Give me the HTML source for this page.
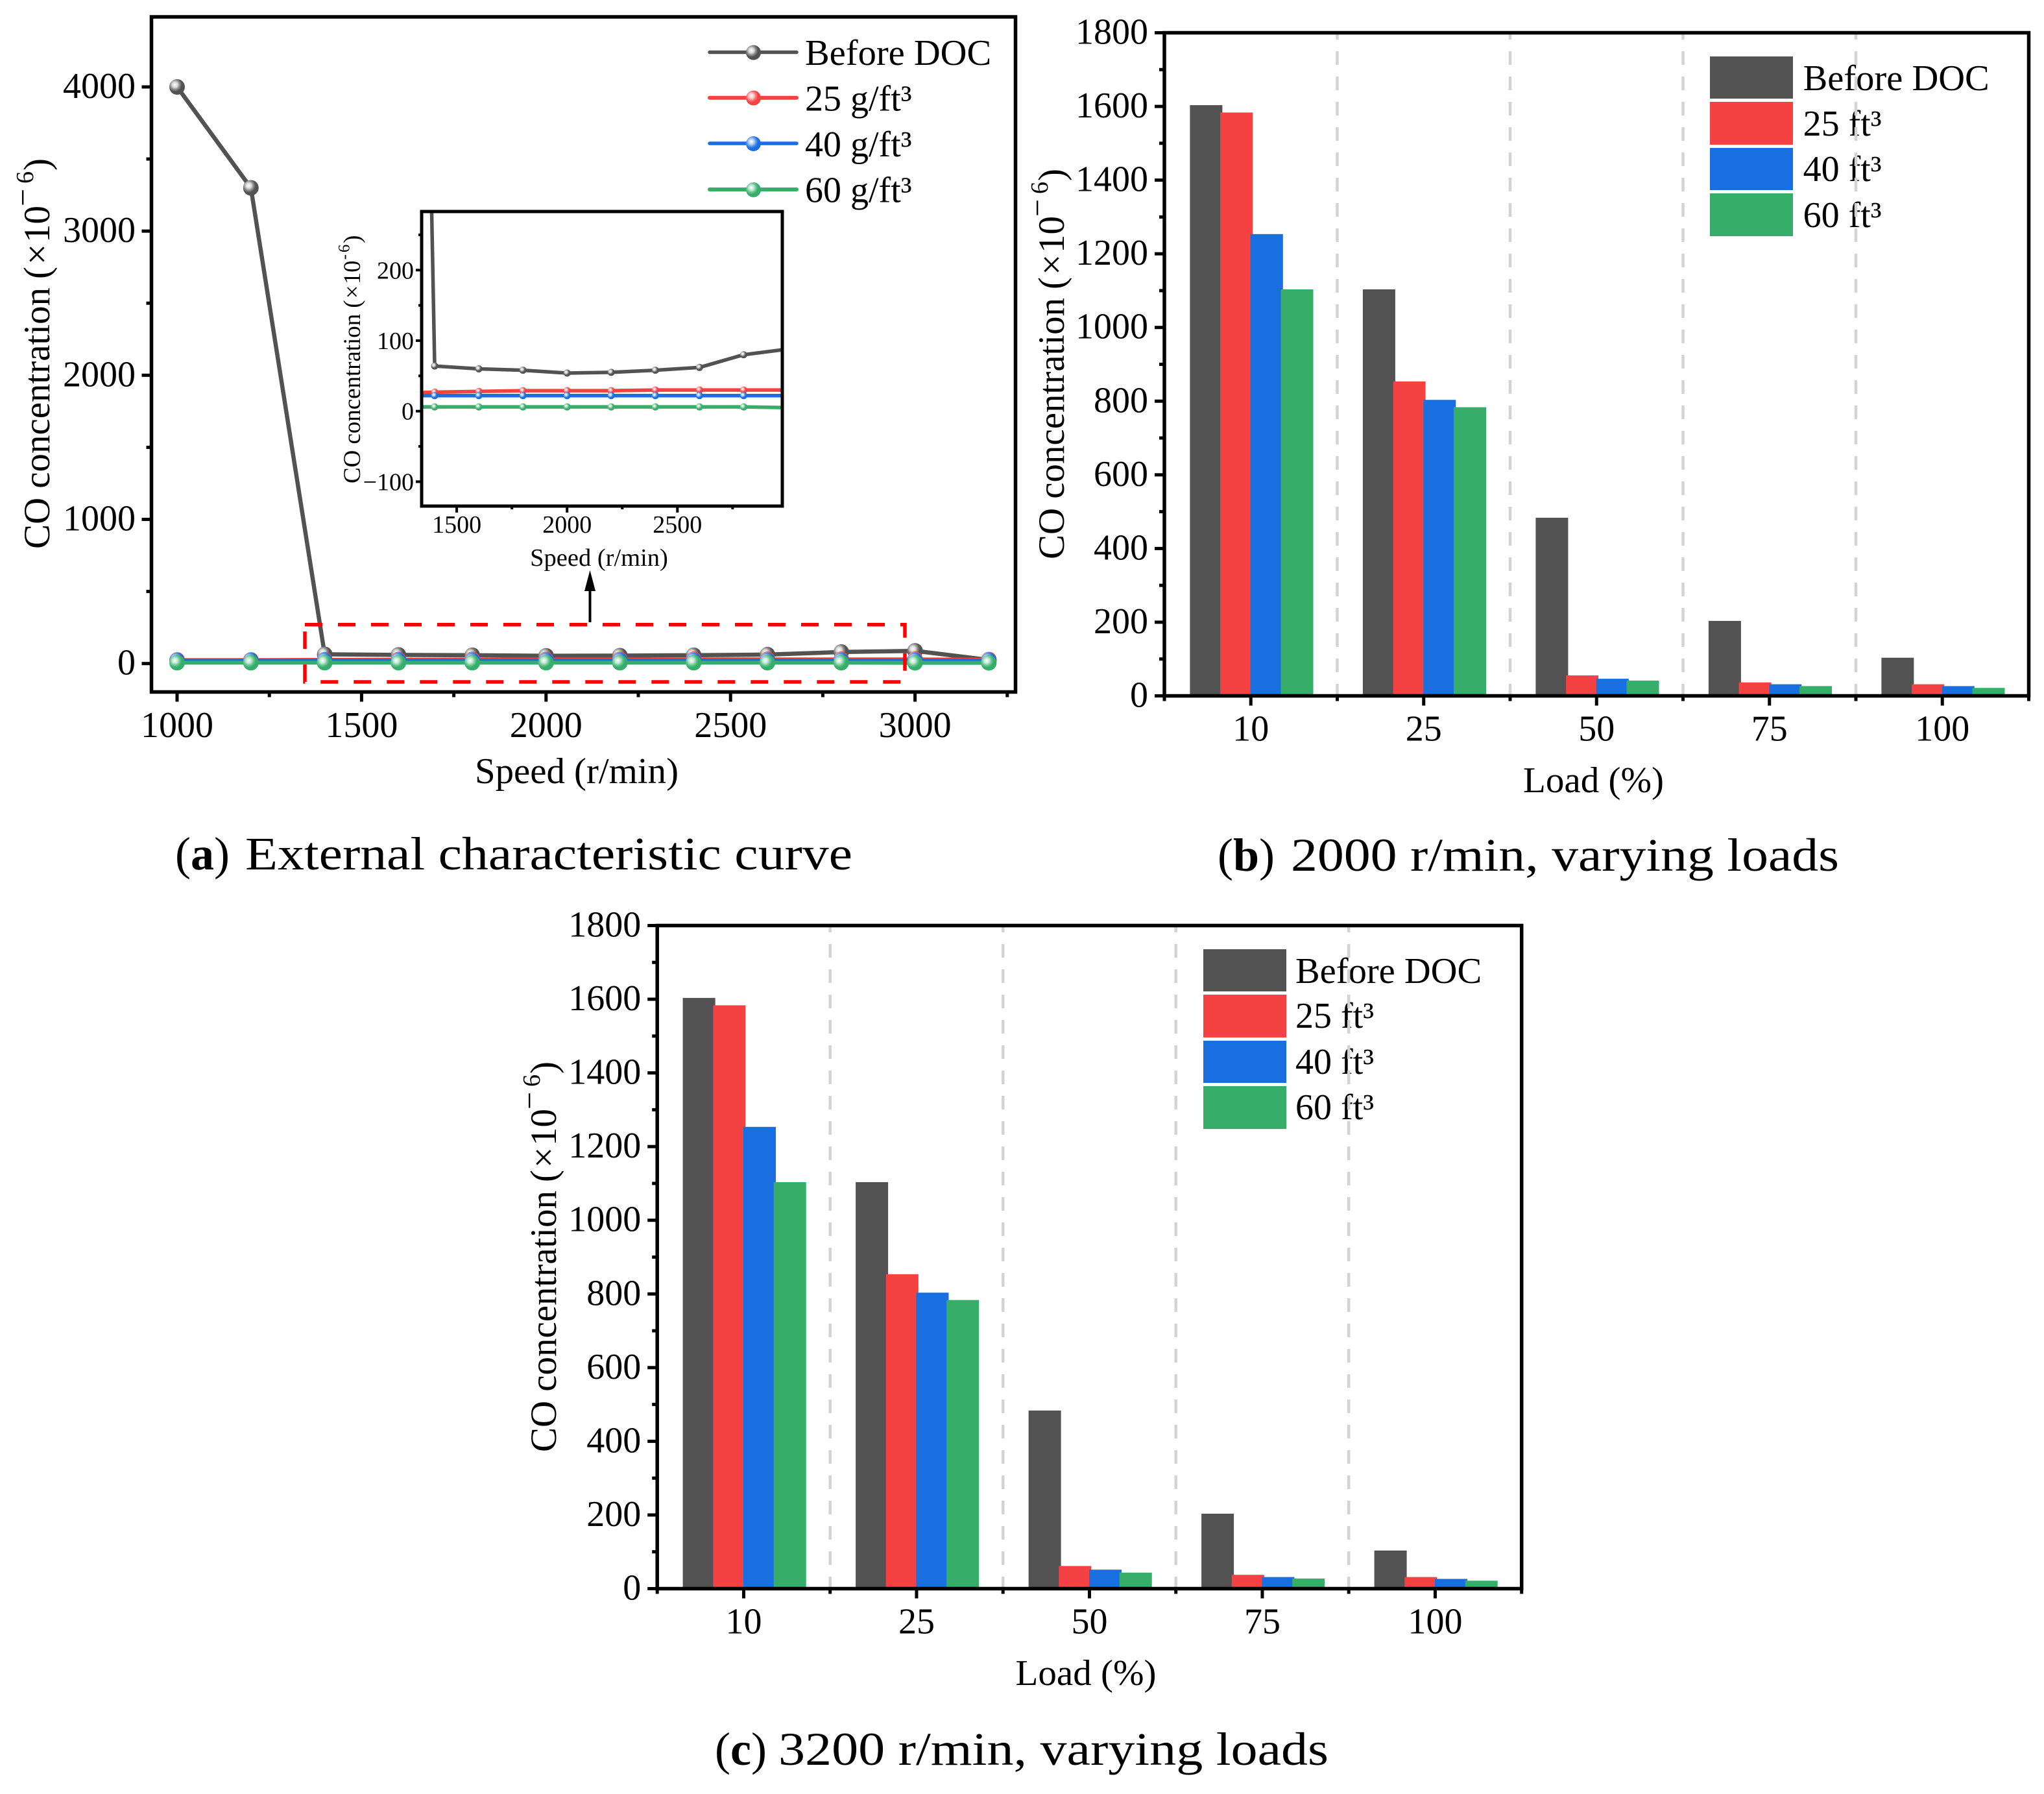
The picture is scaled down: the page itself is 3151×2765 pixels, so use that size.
<!DOCTYPE html>
<html lang="en">
<head>
<meta charset="utf-8">
<title>CO concentration before and after DOC</title>
<style>
html,body{margin:0;padding:0;background:#fff}
svg{display:block}
text{font-family:"Liberation Serif",serif;fill:#000}
</style>
</head>
<body>
<svg id="figure" xmlns="http://www.w3.org/2000/svg" width="3151" height="2765" viewBox="0 0 3151 2765">
<defs>
<radialGradient id="ball-gray" cx="0.36" cy="0.36" r="0.62"><stop offset="0" stop-color="#fff"/><stop offset="0.28" stop-color="#d8d8d8"/><stop offset="0.5" stop-color="#8a8a8a"/><stop offset="0.72" stop-color="#525252"/></radialGradient>
<radialGradient id="ball-red" cx="0.36" cy="0.36" r="0.62"><stop offset="0" stop-color="#fff"/><stop offset="0.28" stop-color="#fbc4c4"/><stop offset="0.5" stop-color="#f67474"/><stop offset="0.72" stop-color="#f44141"/></radialGradient>
<radialGradient id="ball-blue" cx="0.36" cy="0.36" r="0.62"><stop offset="0" stop-color="#fff"/><stop offset="0.28" stop-color="#b9d3f6"/><stop offset="0.5" stop-color="#5c98ea"/><stop offset="0.72" stop-color="#1a6fe0"/></radialGradient>
<radialGradient id="ball-green" cx="0.36" cy="0.36" r="0.62"><stop offset="0" stop-color="#fff"/><stop offset="0.28" stop-color="#c0e8d1"/><stop offset="0.5" stop-color="#6cc795"/><stop offset="0.72" stop-color="#36ae6a"/></radialGradient>
<clipPath id="inset-clip"><rect x="650" y="326" width="556" height="454"/></clipPath>
</defs>

<g id="panel-a">
  <g id="a-series"></g>
  <g id="a-axes"></g>
  <g transform="translate(76,846) rotate(-90)">
    <text font-size="57"><tspan x="0" textLength="403" lengthAdjust="spacingAndGlyphs">CO concentration</tspan><tspan x="416">(</tspan><tspan x="438">×</tspan><tspan x="472">10</tspan><tspan x="528" y="-25" font-size="48">−</tspan><tspan x="563" y="-25" font-size="38">6</tspan><tspan x="583" y="0">)</tspan></text>
  </g>
  <text x="732" y="1207" font-size="56" textLength="314" lengthAdjust="spacingAndGlyphs">Speed (r/min)</text>

  <g>
    <g><line x1="1094" x2="1228" y1="80.5" y2="80.5" stroke="#525252" stroke-width="5.5" stroke-linecap="round"/><circle cx="1161.5" cy="81" r="11.5" fill="url(#ball-gray)"/><text x="1241" y="100" font-size="56.5">Before DOC</text></g>
    <g><line x1="1094" x2="1228" y1="150.7" y2="150.7" stroke="#f44141" stroke-width="6" stroke-linecap="round"/><circle cx="1161.5" cy="151" r="11.5" fill="url(#ball-red)"/><text x="1241" y="170.7" font-size="56">25 g/ft³</text></g>
    <g><line x1="1094" x2="1228" y1="221" y2="221" stroke="#1a6fe0" stroke-width="5.5" stroke-linecap="round"/><circle cx="1161.5" cy="221.5" r="11.5" fill="url(#ball-blue)"/><text x="1241" y="241" font-size="56">40 g/ft³</text></g>
    <g><line x1="1094" x2="1228" y1="292" y2="292" stroke="#36ae6a" stroke-width="6" stroke-linecap="round"/><circle cx="1161.5" cy="292.5" r="11.5" fill="url(#ball-green)"/><text x="1241" y="311.7" font-size="56">60 g/ft³</text></g>
  </g>

  <rect x="470" y="962.7" width="925" height="88.3" fill="none" stroke="#ff0000" stroke-width="5.5" stroke-dasharray="27 24"/>
  <g>
    <line x1="909.5" x2="909.5" y1="959" y2="905" stroke="#000" stroke-width="4"/>
    <polygon points="909.5,879 901,911 918,911" fill="#000"/>
  </g>

  <g id="inset">
    <g id="inset-series" clip-path="url(#inset-clip)"></g>
    <g id="inset-axes"></g>
    <g transform="translate(555,745) rotate(-90) scale(0.653)">
      <text font-size="56"><tspan x="0" textLength="400" lengthAdjust="spacingAndGlyphs">CO concentration</tspan><tspan x="414">(</tspan><tspan x="436">×</tspan><tspan x="470">10</tspan><tspan x="528" y="-25" font-size="38">-</tspan><tspan x="545" y="-25" font-size="38">6</tspan><tspan x="567" y="0">)</tspan></text>
    </g>
    <text x="923.5" y="872" font-size="38.5" text-anchor="middle">Speed (r/min)</text>
  </g>
  <text y="1340" font-size="72"><tspan x="270">(<tspan font-weight="bold">a</tspan>)</tspan><tspan x="378" textLength="936" lengthAdjust="spacingAndGlyphs">External characteristic curve</tspan></text>
</g>

<g id="panel-b">
  <g transform="translate(1640,862) rotate(-90)">
    <text font-size="57"><tspan x="0" textLength="403" lengthAdjust="spacingAndGlyphs">CO concentration</tspan><tspan x="416">(</tspan><tspan x="438">×</tspan><tspan x="472">10</tspan><tspan x="528" y="-25" font-size="48">−</tspan><tspan x="563" y="-25" font-size="38">6</tspan><tspan x="583" y="0">)</tspan></text>
  </g>
  <text x="2348" y="1221" font-size="56" textLength="217" lengthAdjust="spacingAndGlyphs">Load (%)</text>
  <g>
    <g><rect x="2636" y="87" width="128" height="65" fill="#525252"/><text x="2779.6" y="139" font-size="56.5">Before DOC</text></g>
    <g><rect x="2636" y="157" width="128" height="66" fill="#f44141"/><text x="2779.6" y="209" font-size="56">25 ft³</text></g>
    <g><rect x="2636" y="228" width="128" height="65" fill="#1a6fe0"/><text x="2779.6" y="279" font-size="56">40 ft³</text></g>
    <g><rect x="2636" y="298" width="128" height="66" fill="#36ae6a"/><text x="2779.6" y="350" font-size="56">60 ft³</text></g>
  </g>
  <text y="1342" font-size="72"><tspan x="1877">(<tspan font-weight="bold">b</tspan>)</tspan><tspan x="1990" textLength="845" lengthAdjust="spacingAndGlyphs">2000 r/min, varying loads</tspan></text>
</g>

<g id="panel-c">
  <g transform="translate(857,2238) rotate(-90)">
    <text font-size="57"><tspan x="0" textLength="403" lengthAdjust="spacingAndGlyphs">CO concentration</tspan><tspan x="416">(</tspan><tspan x="438">×</tspan><tspan x="472">10</tspan><tspan x="528" y="-25" font-size="48">−</tspan><tspan x="563" y="-25" font-size="38">6</tspan><tspan x="583" y="0">)</tspan></text>
  </g>
  <text x="1565.5" y="2597" font-size="56" textLength="217" lengthAdjust="spacingAndGlyphs">Load (%)</text>
  <g>
    <g><rect x="1855" y="1463" width="128" height="65" fill="#525252"/><text x="1997" y="1515" font-size="56.5">Before DOC</text></g>
    <g><rect x="1855" y="1533" width="128" height="66" fill="#f44141"/><text x="1997" y="1584" font-size="56">25 ft³</text></g>
    <g><rect x="1855" y="1604" width="128" height="65" fill="#1a6fe0"/><text x="1997" y="1655" font-size="56">40 ft³</text></g>
    <g><rect x="1855" y="1674" width="128" height="66" fill="#36ae6a"/><text x="1997" y="1725" font-size="56">60 ft³</text></g>
  </g>
  <text y="2720" font-size="72"><tspan x="1102">(<tspan font-weight="bold">c</tspan>)</tspan><tspan x="1200" textLength="848" lengthAdjust="spacingAndGlyphs">3200 r/min, varying loads</tspan></text>
</g>
</svg>

<script>
// Panel (a) data
const speeds = [1000, 1200, 1400, 1600, 1800, 2000, 2200, 2400, 2600, 2800, 3000, 3200];
const speedBefore = [4000, 3300, 64, 60, 58, 54, 55, 58, 62, 80, 88, 25];
const speed25 = [25, 25, 27, 28, 29, 29, 29, 30, 30, 30, 30, 28];
const speed40 = [22, 22, 22, 22, 22, 22, 22, 22, 22, 22, 22, 22];
const speed60 = [6, 6, 6, 6, 6, 6, 6, 6, 6, 6, 5, 5];
const mainXTicks = [1000, 1500, 2000, 2500, 3000];
const mainXMinorTicks = [1250, 1750, 2250, 2750, 3250];
const mainYTicks = [0, 1000, 2000, 3000, 4000];
const mainYMinorTicks = [500, 1500, 2500, 3500];
const insetXTicks = [1500, 2000, 2500];
const insetXMinorTicks = [1750, 2250, 2750];
const insetYTicks = [-100, 0, 100, 200];
const insetYTickLabels = ['−100', '0', '100', '200'];
const insetYMinorTicks = [-50, 50, 150, 250];

// Panels (b) and (c) data
const loadCategories = ['10', '25', '50', '75', '100'];
const barYTicks = [0, 200, 400, 600, 800, 1000, 1200, 1400, 1600, 1800];
const barYMinorTicks = [100, 300, 500, 700, 900, 1100, 1300, 1500, 1700];
const seriesNames = ['before-doc', '25-ft3', '40-ft3', '60-ft3'];
const b2000Before = [1600, 1100, 480, 200, 100];
const b2000Cat25 = [1580, 850, 52, 33, 28];
const b2000Cat40 = [1250, 800, 43, 28, 23];
const b2000Cat60 = [1100, 780, 38, 23, 18];
const c3200Before = [1600, 1100, 480, 200, 100];
const c3200Cat25 = [1580, 850, 58, 34, 28];
const c3200Cat40 = [1250, 800, 48, 28, 23];
const c3200Cat60 = [1100, 780, 40, 24, 18];

const NS = 'http://www.w3.org/2000/svg';
const GRAY = '#525252', RED = '#f44141', BLUE = '#1a6fe0', GREEN = '#36ae6a';

function make(parent, tag, attrs, txt) {
  const el = document.createElementNS(NS, tag);
  for (const k in attrs) el.setAttribute(k, attrs[k]);
  if (txt !== undefined) el.textContent = txt;
  parent.appendChild(el);
  return el;
}

function drawFrame(parent, l, t, r, b, sw) {
  const el = make(parent, 'rect', {x: l, y: t, width: r - l, height: b - t, fill: 'none', stroke: '#000', 'stroke-width': sw});
  
  
}

function xTick(parent, x, y0, len, sw, label, labelY, fs) {
  const tick = make(parent, 'line', {x1: x, x2: x, y1: y0, y2: y0 + len, stroke: '#000', 'stroke-width': sw});
  
  
  if (label !== null) {
    const t = make(parent, 'text', {x: x, y: labelY, 'font-size': fs, 'text-anchor': 'middle'}, label);
    
    
  }
}

function yTick(parent, y, x0, len, sw, label, labelX, off, fs) {
  const tick = make(parent, 'line', {x1: x0, x2: x0 - len, y1: y, y2: y, stroke: '#000', 'stroke-width': sw});
  
  
  if (label !== null) {
    const t = make(parent, 'text', {x: labelX, y: y + off, 'font-size': fs, 'text-anchor': 'end'}, label);
    
    
  }
}

function drawLineSeries(parent, xFn, yFn, values, color, ball, width, r, name) {
  const pts = speeds.map(function (s, i) { return xFn(s) + ',' + yFn(values[i]); }).join(' ');
  const line = make(parent, 'polyline', {points: pts, fill: 'none', stroke: color, 'stroke-width': width, 'stroke-linejoin': 'round'});
  
  
  speeds.forEach(function (s, i) {
    const dot = make(parent, 'circle', {cx: xFn(s), cy: yFn(values[i]), r: r, fill: 'url(#' + ball + ')'});
    
    
  });
}

// Main axis functions, panel (a)
function mainX(v) { return 273 + (v - 1000) * 0.5688; }
function mainY(v) { return 1022.7 - v * 0.22218; }
// Inset axis functions
function insetX(v) { return 874.2 + (v - 2000) * 0.3402; }
function insetY(v) { return 633.7 - v * 1.087; }

(function drawPanelA() {
  const series = document.getElementById('a-series');
  drawLineSeries(series, mainX, mainY, speedBefore, GRAY, 'ball-gray', 6.5, 12, 'before-doc');
  drawLineSeries(series, mainX, mainY, speed25, RED, 'ball-red', 5.5, 12, '25-g-ft3');
  drawLineSeries(series, mainX, mainY, speed40, BLUE, 'ball-blue', 5.5, 12, '40-g-ft3');
  drawLineSeries(series, mainX, mainY, speed60, GREEN, 'ball-green', 6, 12, '60-g-ft3');

  const axes = document.getElementById('a-axes');
  const L = 233.5, T = 26, R = 1565.5, B = 1066.5;
  drawFrame(axes, L, T, R, B, 5.5);
  mainXTicks.forEach(function (v) { xTick(axes, mainX(v), B, 15, 5, String(v), 1136, 56); });
  mainXMinorTicks.forEach(function (v) { xTick(axes, mainX(v), B, 8, 5, null); });
  mainYTicks.forEach(function (v) { yTick(axes, mainY(v), L, 15, 5, String(v), 209, 17, 56); });
  mainYMinorTicks.forEach(function (v) { yTick(axes, mainY(v), L, 8, 5, null); });

  const iSeries = document.getElementById('inset-series');
  make(iSeries, 'rect', {x: 650, y: 326, width: 556, height: 454, fill: '#fff'});
  drawLineSeries(iSeries, insetX, insetY, speedBefore, GRAY, 'ball-gray', 5.5, 5.5, 'inset-before-doc');
  drawLineSeries(iSeries, insetX, insetY, speed25, RED, 'ball-red', 5.5, 5.5, 'inset-25-g-ft3');
  drawLineSeries(iSeries, insetX, insetY, speed40, BLUE, 'ball-blue', 5.5, 5.5, 'inset-40-g-ft3');
  drawLineSeries(iSeries, insetX, insetY, speed60, GREEN, 'ball-green', 5.5, 5.5, 'inset-60-g-ft3');

  const iAxes = document.getElementById('inset-axes');
  const iL = 650, iT = 326, iR = 1206, iB = 780;
  drawFrame(iAxes, iL, iT, iR, iB, 5);
  insetXTicks.forEach(function (v) { xTick(iAxes, insetX(v), iB, 10, 4, String(v), 821, 38); });
  insetXMinorTicks.forEach(function (v) { xTick(iAxes, insetX(v), iB, 5, 4, null); });
  insetYTicks.forEach(function (v, i) { yTick(iAxes, insetY(v), iL, 9, 4, insetYTickLabels[i], 638, 13, 38); });
  insetYMinorTicks.forEach(function (v) { yTick(iAxes, insetY(v), iL, 5, 4, null); });
})();

function drawBarPanel(parentId, left, top, bottom, seriesValues) {
  const catW = 266.5;
  const right = left + catW * loadCategories.length;
  const root = document.getElementById(parentId);
  const g = make(root, 'g', {});
  
  
  function catX(i) { return left + catW * (i + 0.5); }
  function valY(v) { return bottom - v * (bottom - top) / 1800; }

  for (let i = 1; i < loadCategories.length; i++) {
    const sep = make(g, 'line', {x1: left + catW * i, x2: left + catW * i, y1: top, y2: bottom, stroke: '#d3d3d3', 'stroke-width': 4.5, 'stroke-dasharray': '21 18', 'stroke-dashoffset': 10.5});
    
    
  }
  const colors = [GRAY, RED, BLUE, GREEN];
  const offsets = [-1.5, -0.5, 0.5, 1.5];
  seriesValues.forEach(function (values, s) {
    values.forEach(function (v, i) {
      const cx = catX(i) + 1.2 + offsets[s] * 46.7;
      const barTop = valY(v) - 2;
      const bar = make(g, 'rect', {x: cx - 25, y: barTop, width: 50, height: bottom - barTop, fill: colors[s]});
      
      
    });
  });
  drawFrame(g, left, top, right, bottom, 5.5);
  loadCategories.forEach(function (c, i) { xTick(g, catX(i), bottom, 15, 5, c, bottom + 69, 56); });
  for (let i = 0; i <= loadCategories.length; i++) { xTick(g, left + catW * i, bottom, 8, 5, null); }
  barYTicks.forEach(function (v) { yTick(g, valY(v), left, 15, 5, String(v), left - 25, 17, 56); });
  barYMinorTicks.forEach(function (v) { yTick(g, valY(v), left, 8, 5, null); });
}

drawBarPanel('panel-b', 1795, 50.5, 1072.5, [b2000Before, b2000Cat25, b2000Cat40, b2000Cat60]);
drawBarPanel('panel-c', 1013.2, 1426.5, 2448.5, [c3200Before, c3200Cat25, c3200Cat40, c3200Cat60]);
</script>
</body>
</html>
